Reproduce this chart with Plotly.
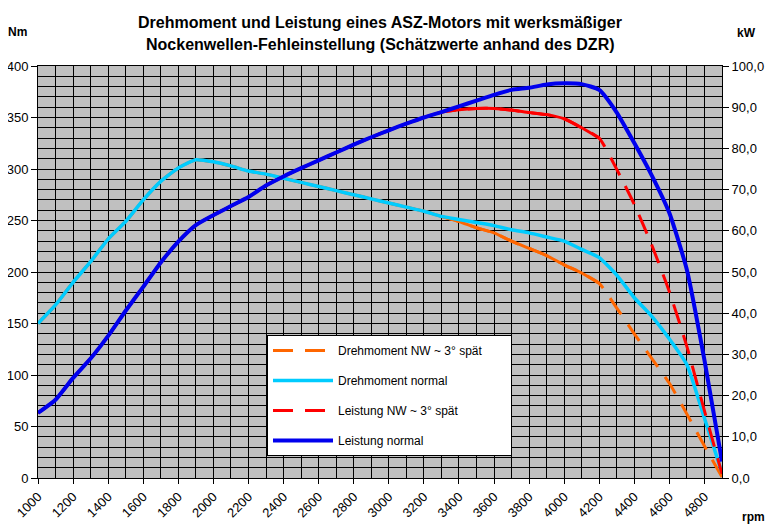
import plotly.graph_objects as go

rpm = [1000, 1100, 1200, 1300, 1400, 1500, 1600, 1700, 1800, 1900,
       2000, 2100, 2200, 2300, 2400, 2500, 2600, 2700, 2800, 2900,
       3000, 3100, 3200, 3300, 3400, 3500, 3600, 3700, 3800, 3900,
       4000, 4100, 4200, 4300, 4400, 4500, 4600, 4700, 4800, 4900]

torque_normal = [150, 168, 190, 210, 232, 249, 270, 288, 301, 309,
                 307, 303, 298, 295, 291, 287, 283, 279, 275, 271,
                 267, 263, 259, 254, 251, 248, 245, 241, 238, 234,
                 230, 222, 214, 197, 175, 157, 135, 110, 58, 5]

torque_late = [150, 168, 190, 210, 232, 249, 270, 288, 301, 309,
               307, 303, 298, 295, 291, 287, 283, 279, 275, 271,
               267, 263, 259, 254, 249, 243, 238, 230, 223, 216,
               207, 199, 189, 165, 140, 116, 92, 62, 31, 1]

power_normal = [15.8, 19.0, 24.3, 29.0, 34.5, 40.6, 46.4, 52.3, 57.4, 61.4,
                63.8, 66.0, 68.2, 71.0, 73.2, 75.2, 77.1, 79.0, 80.9, 82.7,
                84.4, 86.0, 87.5, 88.8, 90.2, 91.6, 93.0, 94.2, 94.7, 95.5,
                95.8, 95.6, 94.2, 88.7, 81.3, 73.4, 64.3, 50.5, 28.6, 4.0]

power_late = [15.8, 19.0, 24.3, 29.0, 34.5, 40.6, 46.4, 52.3, 57.4, 61.4,
              63.8, 66.0, 68.2, 71.0, 73.2, 75.2, 77.1, 79.0, 80.9, 82.7,
              84.4, 86.0, 87.5, 88.8, 89.4, 89.7, 89.7, 89.3, 88.7, 88.2,
              87.2, 85.0, 82.5, 74.9, 66.4, 56.5, 45.2, 31.9, 16.3, 1.0]

names = ["Drehmoment NW ~ 3° spät", "Drehmoment normal",
         "Leistung NW ~ 3° spät", "Leistung normal"]

title_lines = ["Drehmoment und Leistung eines ASZ-Motors mit werksmäßiger",
               "Nockenwellen-Fehleinstellung (Schätzwerte anhand des DZR)"]

SOLID_END = 4200  # the late curves look continuous up to here in the reference
n_solid = rpm.index(SOLID_END) + 1

FONT = "Liberation Sans, Arial, sans-serif"
DASH = "20px,12px"
ORANGE, CYAN, RED, BLUE = "#FF6600", "#00CCFF", "#FF0000", "#0000EE"
PAD = "\u00a0" * 7  # widens the legend box like in the reference

fig = go.Figure()
fig.add_trace(go.Scatter(x=rpm, y=torque_late, name=names[0] + PAD, mode="lines",
                         legendgroup="a",
                         line=dict(color=ORANGE, width=3, dash=DASH, shape="spline", smoothing=0.5)))
fig.add_trace(go.Scatter(x=rpm[:n_solid], y=torque_late[:n_solid], name=names[0], mode="lines",
                         legendgroup="a", showlegend=False,
                         line=dict(color=ORANGE, width=3, shape="spline", smoothing=0.5)))
fig.add_trace(go.Scatter(x=rpm, y=torque_normal, name=names[1], mode="lines",
                         legendgroup="b",
                         line=dict(color=CYAN, width=3.5, shape="spline", smoothing=0.5)))
fig.add_trace(go.Scatter(x=rpm, y=power_late, name=names[2], mode="lines", yaxis="y2",
                         legendgroup="c",
                         line=dict(color=RED, width=3, dash=DASH, shape="spline", smoothing=0.5)))
fig.add_trace(go.Scatter(x=rpm[:n_solid], y=power_late[:n_solid], name=names[2], mode="lines",
                         yaxis="y2", legendgroup="c", showlegend=False,
                         line=dict(color=RED, width=3, shape="spline", smoothing=0.5)))
fig.add_trace(go.Scatter(x=rpm, y=power_normal, name=names[3], mode="lines", yaxis="y2",
                         legendgroup="d",
                         line=dict(color=BLUE, width=4, shape="spline", smoothing=0.5)))

# page body has an 8px margin: figure is 772x522 and positioned at (8, 8)
OFF = 8
FW, FH = 780 - OFF, 530 - OFF
L, R, T, B = 38 - OFF, 58, 66 - OFF, 52
W = FW - L - R
H = FH - T - B

def px(xp):
    return (xp - OFF - L) / W

def py(yp):
    return (FH - B - (yp - OFF)) / H

fig.update_layout(
    width=FW, height=FH,
    margin=dict(l=L, r=R, t=T, b=B, autoexpand=False),
    paper_bgcolor="white", plot_bgcolor="#C0C0C0",
    separators=",.",
    font=dict(family=FONT, size=12, color="black"),
    xaxis=dict(range=[1000, 4900], dtick=200, tick0=1000, tickangle=-45,
               showgrid=True, gridcolor="black", gridwidth=1,
               ticks="outside", ticklen=5, tickcolor="black",
               showline=True, linecolor="black", mirror=True,
               zeroline=False, automargin=False,
               minor=dict(dtick=100, showgrid=True, gridcolor="black", gridwidth=1),
               tickfont=dict(size=13)),
    yaxis=dict(range=[0, 400], dtick=50, showgrid=True, gridcolor="black", gridwidth=1,
               ticks="outside", ticklen=6, tickcolor="black",
               showline=True, linecolor="black", mirror=True, zeroline=False,
               automargin=False,
               minor=dict(dtick=10, showgrid=True, gridcolor="black", gridwidth=1),
               tickfont=dict(size=13)),
    yaxis2=dict(range=[0, 100], dtick=10, overlaying="y", side="right",
                tickformat=".1f", showgrid=False, zeroline=False,
                ticks="outside", ticklen=6, tickcolor="black",
                showline=True, linecolor="black", automargin=False,
                tickfont=dict(size=13)),
    legend=dict(x=px(267), y=py(335), xanchor="left", yanchor="top",
                bgcolor="white", bordercolor="black", borderwidth=1,
                font=dict(family=FONT, size=12, color="black"),
                tracegroupgap=11, itemwidth=60),
)

fig.add_annotation(text="<b>" + title_lines[0] + "</b>", x=0.5, y=py(22),
                   xref="paper", yref="paper", showarrow=False,
                   xanchor="center", yanchor="middle",
                   font=dict(family=FONT, size=16, color="black"))
fig.add_annotation(text="<b>" + title_lines[1] + "</b>", x=0.5, y=py(45),
                   xref="paper", yref="paper", showarrow=False,
                   xanchor="center", yanchor="middle",
                   font=dict(family=FONT, size=16, color="black"))

for txt, xp, yp in [("<b>Nm</b>", 17, 32), ("<b>kW</b>", 746, 33), ("<b>rpm</b>", 753, 517)]:
    fig.add_annotation(text=txt, x=px(xp), y=py(yp), xref="paper", yref="paper",
                       showarrow=False, xanchor="center", yanchor="middle",
                       font=dict(family=FONT, size=12, color="black"))

fig.write_html("out.html")
